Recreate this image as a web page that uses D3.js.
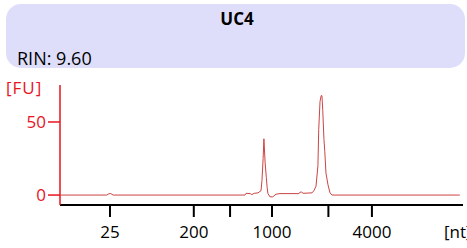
<!DOCTYPE html>
<html>
<head>
<meta charset="utf-8">
<script src="https://cdn.jsdelivr.net/npm/d3@7"></script>
<style>
  body { margin: 0; background: #fff; }
  svg { display: block; font-family: "Open Sans", sans-serif; }
</style>
</head>
<body>
<div id="chart"></div>
<script>
// sample info
const title = 'UC4',
  rin = 'RIN: 9.60';

// ladder: size in nt and migration time (s)
const ladderNt = [25, 200, 500, 1000, 2000, 4000],
  ladderTime = [26.2, 36.6, 41.1, 46.3, 53.3, 58.7],
  labelledNt = [25, 200, 1000, 4000];

// electropherogram, time (s) vs fluorescence (FU)
const traceTime = [20, 25.8, 26.1, 26.3, 26.6, 42.95, 43.08, 43.6, 43.8, 44.1, 44.57, 44.94,
  45.06, 45.2, 45.3, 45.45, 45.6, 45.7, 45.8, 46.05, 46.4, 46.8, 47.3, 49.65, 49.78,
  50.0, 50.15, 51.27, 51.5, 51.76, 52.0, 52.1, 52.26, 52.4, 52.5, 52.6, 52.75, 52.85,
  53.0, 53.25, 53.5, 53.75, 69.6];
const traceFU = [0, 0, 1, 1, 0, 0, 1.2, 1.0, 0.3, 1.2, 1.5, 3,
  10, 25, 38.5, 22, 12, 5, 1, -1.2, -1.2, 0.6, 1.0, 1.0, 2,
  2, 1.2, 1.5, 3, 6, 20, 45, 64, 68, 68, 58, 38, 30,
  15, 7, 1.5, 0, 0];

const yTicks = [0, 50];

const width = 467, height = 248;
const svg = d3.select('#chart').append('svg')
  .attr('width', width)
  .attr('height', height);

// header box
svg.append('rect')
  .attr('x', 6).attr('y', 4)
  .attr('width', 459).attr('height', 64)
  .attr('rx', 15)
  .attr('fill', '#dedefb');
svg.append('text')
  .attr('x', 237).attr('y', 25)
  .attr('text-anchor', 'middle')
  .style('font-size', '17px')
  .style('font-weight', 'bold')
  .text(title);
svg.append('text')
  .attr('x', 17).attr('y', 65)
  .style('font-size', '18px')
  .text(rin);

// scales
const x = d3.scaleLinear().domain([20, 70]).range([60, 463]);
const y = d3.scaleLinear().domain([-6.8, 75.3]).range([205, 85]);

// x axis
const xAxis = svg.append('g').attr('transform', 'translate(0,205)');
xAxis.append('line')
  .attr('x1', 60).attr('x2', 463)
  .attr('stroke', '#000').attr('stroke-width', 2);
xAxis.selectAll('.tick')
  .data(ladderNt)
  .enter().append('line')
  .attr('x1', (d, i) => x(ladderTime[i]))
  .attr('x2', (d, i) => x(ladderTime[i]))
  .attr('y1', 0).attr('y2', 12)
  .attr('stroke', '#000').attr('stroke-width', 2);
xAxis.selectAll('.lbl')
  .data(ladderNt)
  .enter().filter(d => labelledNt.includes(d))
  .append('text')
  .attr('x', d => x(ladderTime[ladderNt.indexOf(d)]))
  .attr('y', 33)
  .attr('text-anchor', 'middle')
  .style('font-size', '17px')
  .text(d => d);
xAxis.append('text')
  .attr('x', 444).attr('y', 33)
  .style('font-size', '17px')
  .text('[nt]');

// y axis
const yAxis = svg.append('g').attr('transform', 'translate(60,0)');
yAxis.append('line')
  .attr('y1', 85).attr('y2', 205)
  .attr('stroke', '#e8141e').attr('stroke-width', 1.5);
yAxis.selectAll('.tick')
  .data(yTicks)
  .enter().append('line')
  .attr('x1', -12).attr('x2', 0)
  .attr('y1', d => y(d)).attr('y2', d => y(d))
  .attr('stroke', '#e8141e').attr('stroke-width', 1.5);
yAxis.selectAll('.lbl')
  .data(yTicks)
  .enter().append('text')
  .attr('x', -14)
  .attr('y', d => y(d) + 6)
  .attr('text-anchor', 'end')
  .attr('fill', '#e8141e')
  .style('font-size', '17px')
  .text(d => d);
svg.append('text')
  .attr('x', 6).attr('y', 94)
  .attr('fill', '#e8141e')
  .style('font-size', '17px')
  .style('letter-spacing', '1px')
  .text('[FU]');

// trace
const line = d3.line()
  .x((d, i) => x(traceTime[i]))
  .y(d => y(d));
svg.append('path')
  .datum(traceFU)
  .attr('d', line)
  .attr('fill', 'none')
  .attr('stroke', '#cc4444')
  .attr('stroke-width', 1);
</script>
</body>
</html>
